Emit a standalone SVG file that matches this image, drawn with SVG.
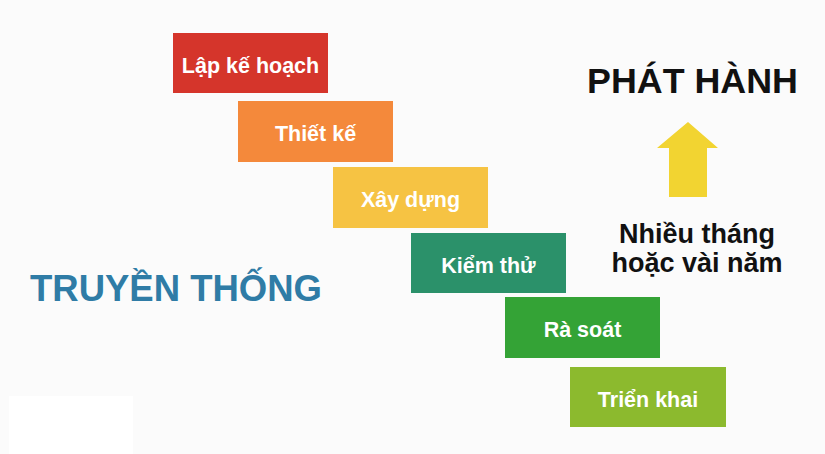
<svg xmlns="http://www.w3.org/2000/svg" width="825" height="454" viewBox="0 0 825 454">
<style>
.box text{font-family:"Liberation Sans",Arial,sans-serif;font-weight:bold;font-size:21.5px;fill:#ffffff;text-anchor:middle}
.lbl{font-family:"Liberation Sans",Arial,sans-serif;font-weight:bold}
</style>
<rect x="0" y="0" width="825" height="454" fill="#fbfbfb"/>
<rect x="9" y="396" width="124" height="58" fill="#ffffff"/>
<g id="plan" class="box"><rect x="173" y="33" width="155" height="60" fill="#d5352b"/><text x="250.5" y="73">Lập kế hoạch</text></g>
<g id="design" class="box"><rect x="238" y="101" width="155" height="61" fill="#f4893b"/><text x="315.5" y="141">Thiết kế</text></g>
<g id="build" class="box"><rect x="333" y="167" width="155" height="61" fill="#f6c343"/><text x="410.5" y="207">Xây dựng</text></g>
<g id="test" class="box"><rect x="411" y="233" width="155" height="60" fill="#2b916a"/><text x="488.5" y="273">Kiểm thử</text></g>
<g id="review" class="box"><rect x="505" y="297" width="155" height="61" fill="#34a336"/><text x="582.5" y="337">Rà soát</text></g>
<g id="deploy" class="box"><rect x="570" y="367" width="156" height="60" fill="#8cba2e"/><text x="648" y="407">Triển khai</text></g>
<g id="traditional"><text class="lbl" x="30" y="301" font-size="36.5" fill="#2f7ca6">TRUYỀN THỐNG</text></g>
<g id="release"><text class="lbl" x="587" y="93" font-size="35" fill="#111111" textLength="211" lengthAdjust="spacingAndGlyphs">PHÁT HÀNH</text></g>
<g id="connectors"><polygon points="688,122 718,148 707,148 707,197 669,197 669,148 657,148" fill="#f2d431"/></g>
<g id="duration"><text class="lbl" font-size="27" fill="#111111" text-anchor="middle"><tspan x="697" y="243">Nhiều tháng</tspan><tspan x="697" y="272">hoặc vài năm</tspan></text></g>
</svg>
